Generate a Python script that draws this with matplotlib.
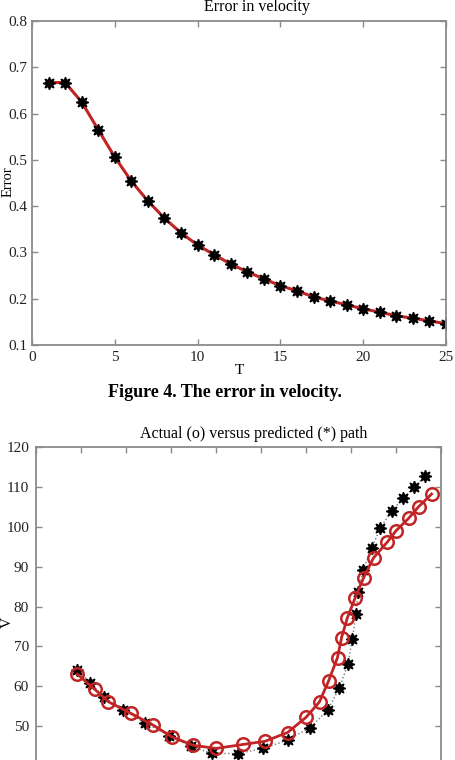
import numpy as np
import matplotlib
matplotlib.use('Agg')
import matplotlib.pyplot as plt

plt.rcParams['font.family'] = ['Liberation Serif', 'DejaVu Serif']

# error in velocity, T = 1..25
T = list(range(1, 26))
err = [0.667, 0.667, 0.625, 0.565, 0.506, 0.454, 0.411, 0.374, 0.342, 0.316,
       0.295, 0.275, 0.258, 0.243, 0.228, 0.217, 0.204, 0.195, 0.187, 0.178,
       0.171, 0.163, 0.158, 0.152, 0.146]

# actual (o) path
actX = [9.2, 13.1, 16.1, 21.1, 26.1, 30.2, 34.9, 40.0, 46.0, 50.9,
        55.9, 60.0, 63.0, 65.0, 67.0, 67.9, 69.2, 70.9, 72.8, 75.0,
        78.1, 80.0, 82.8, 85.0, 87.9]
actV = [63.0, 59.2, 56.1, 53.2, 50.2, 47.3, 45.2, 44.4, 45.4, 46.2,
        48.4, 52.2, 56.1, 61.3, 67.2, 72.2, 77.2, 82.1, 87.2, 92.2,
        96.2, 99.0, 102.1, 105.0, 108.2]

# predicted (*) path
predX = [9.2, 12.0, 15.2, 19.4, 24.2, 29.6, 34.4, 39.0, 44.8, 50.5,
         55.9, 60.9, 64.8, 67.4, 69.3, 70.3, 71.1, 71.6, 72.7, 74.6,
         76.5, 79.0, 81.6, 84.0, 86.5]
predV = [64.2, 60.9, 57.2, 54.0, 50.8, 47.6, 44.9, 43.2, 43.1, 44.4,
         46.5, 49.6, 54.0, 59.5, 65.5, 71.9, 78.2, 83.7, 89.1, 94.7,
         99.6, 104.0, 107.1, 109.9, 112.7]

red = '#c02424'
gray = '#8a8a8a'
star = (8, 1, 0)


def style(ax):
    for s in ax.spines.values():
        s.set_color(gray)
        s.set_linewidth(1.3)
    ax.tick_params(direction='in', length=4, width=1, color=gray,
                   top=True, right=True, labelsize=11, labelcolor='#222222')


fig = plt.figure(figsize=(4.56, 7.60), dpi=100)

# top panel
ax1 = fig.add_axes([32/456, 1 - 345/760, 414/456, 324/760])
ax1.plot(T, err, color=red, lw=2.2, marker=star, ms=9, mfc='black', mec='black')
ax1.set_xlim(0, 25)
ax1.set_ylim(0.1, 0.8)
ax1.set_xticks(np.arange(0, 26, 5))
ax1.set_yticks(np.arange(0.1, 0.81, 0.1))
ax1.set_yticklabels(['%.1f' % v for v in np.arange(0.1, 0.81, 0.1)])
style(ax1)
ax1.tick_params(axis='x', pad=4)
ax1.tick_params(axis='y', pad=3)
ax1.text(0.543, 1.018, 'Error in velocity', transform=ax1.transAxes,
         ha='center', va='bottom', fontsize=11.5)
ax1.set_xlabel('T', fontsize=11, labelpad=0)
ax1.set_ylabel('Error', fontsize=10.5)
ax1.yaxis.set_label_coords(-0.042, 0.505)

fig.text(225/456, 1 - 392/760, 'Figure 4. The error in velocity.',
         ha='center', va='center', fontsize=13, fontweight='bold')

# bottom panel (cut off at the bottom of the page)
ax2 = fig.add_axes([36/456, 1 - 766/760, 405/456, 319/760])
ax2.plot(predX, predV, color='#777777', lw=1, ls=':', marker=star, ms=9,
         mfc='black', mec='black')
ax2.plot(actX, actV, color=red, lw=2, marker='o', ms=9, mfc='none',
         mec=red, mew=1.8)
ax2.set_xlim(0, 90)
ax2.set_ylim(40, 120)
ax2.set_xticks(np.arange(0, 91, 10))
ax2.set_yticks(np.arange(50, 121, 10))
style(ax2)
ax2.tick_params(axis='x', labelbottom=False)
ax2.tick_params(axis='y', pad=5)
ax2.text(0.538, 1.015, 'Actual (o) versus predicted (*) path',
         transform=ax2.transAxes, ha='center', va='bottom', fontsize=11.5)
ax2.set_ylabel('V', fontsize=11)
ax2.yaxis.set_label_coords(-0.055, 0.45)

fig.savefig('out.png', dpi=100)
